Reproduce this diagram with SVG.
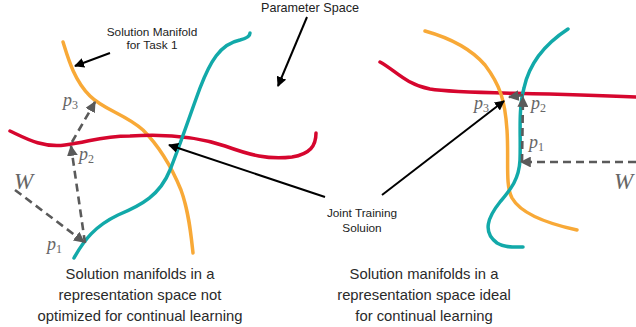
<svg xmlns="http://www.w3.org/2000/svg" width="636" height="327" viewBox="0 0 636 327">
<defs>
<style>
.curve{fill:none;stroke-width:3.5;stroke-linecap:round;stroke-linejoin:round}
.orange{stroke:#F8A937}
.teal{stroke:#12A9A9}
.red{stroke:#D6062E}
.dash{fill:none;stroke:#5a5a5a;stroke-width:2.6;stroke-dasharray:8 5}
.blk{fill:none;stroke:#000;stroke-width:2}
.lbl{font-family:"Liberation Sans",Arial,sans-serif;font-size:11.8px;fill:#222;text-anchor:middle}
.cap{font-family:"Liberation Sans",Arial,sans-serif;font-size:14.8px;fill:#2a2a2a;text-anchor:middle}
.math{font-family:"Liberation Serif","DejaVu Serif",serif;font-style:italic;fill:#666}
</style>
<marker id="ah" viewBox="0 0 10 10" refX="9" refY="5" markerWidth="5" markerHeight="5" orient="auto" markerUnits="strokeWidth">
<path d="M0,0 L10,5 L0,10 z" fill="#000"/>
</marker>
<marker id="gh" viewBox="0 0 10 10" refX="9" refY="5" markerWidth="4.2" markerHeight="4.2" orient="auto" markerUnits="strokeWidth">
<path d="M0,0 L10,5 L0,10 z" fill="#5a5a5a"/>
</marker>
</defs>

<g id="left-panel">
<path id="left-orange" class="curve orange" d="M63,42 C68,58 74,80 90,96 C104,110 125,114 143,130 C160,147 172,168 181,190 C189,212 191,235 193,253"/>
<path id="left-red" class="curve red" d="M10,131 C25,138 42,148 65,145 C90,142 100,136 130,136 C160,134 195,136 225,146 C250,155 268,160 292,157 C310,154 316,146 316,133"/>
<path id="left-teal" class="curve teal" d="M74,258 C84,240 95,226 118,215 C142,205 160,195 170,170 C180,145 190,115 200,88 C210,62 220,44 240,40 C248,38 250,36 250,33"/>
</g>

<g id="right-panel">
<path id="right-red" class="curve red" d="M380,62 C395,70 405,84 430,89 C460,94 520,92 636,97"/>
<path id="right-orange" class="curve orange" d="M425,31 C450,38 472,50 485,65 C500,85 505,100 507,130 C509,160 505,185 512,198 C520,212 540,222 577,230"/>
<path id="right-teal" class="curve teal" d="M568,29 C548,42 530,60 524,88 C518,110 521,135 520,160 C519,180 510,190 500,202 C488,217 482,232 497,243 C505,248 515,247 523,247"/>
</g>

<g id="connectors">
<line class="dash" x1="15" y1="190" x2="84" y2="242" marker-end="url(#gh)"/>
<line class="dash" x1="85" y1="243" x2="71" y2="146" marker-end="url(#gh)"/>
<line class="dash" x1="72" y1="142" x2="95" y2="102" marker-end="url(#gh)"/>
<line class="dash" x1="636" y1="162" x2="521" y2="162" marker-end="url(#gh)"/>
<line class="dash" x1="522" y1="162" x2="523" y2="97" marker-end="url(#gh)"/>
<line class="dash" x1="523" y1="95" x2="509" y2="97" marker-end="url(#gh)"/>
<line class="blk" x1="110" y1="53" x2="75" y2="66" marker-end="url(#ah)"/>
<line class="blk" x1="307" y1="17" x2="278" y2="86" marker-end="url(#ah)"/>
<line class="blk" x1="325" y1="197" x2="169" y2="145" marker-end="url(#ah)"/>
<line class="blk" x1="382" y1="195" x2="504" y2="101" marker-end="url(#ah)"/>
</g>

<g id="labels">
<text class="lbl" x="310" y="12" style="font-size:12.6px">Parameter Space</text>
<text class="lbl" x="152" y="36">Solution Manifold</text>
<text class="lbl" x="152" y="49">for Task 1</text>
<text class="lbl" x="362" y="217">Joint Training</text>
<text class="lbl" x="362" y="232">Soluion</text>
<text class="math" x="14" y="189" font-size="23">W</text>
<text class="math" x="63" y="106" font-size="18">p<tspan font-size="12" dy="3" font-style="normal">3</tspan></text>
<text class="math" x="79" y="160" font-size="18">p<tspan font-size="12" dy="3" font-style="normal">2</tspan></text>
<text class="math" x="47" y="250" font-size="18">p<tspan font-size="12" dy="3" font-style="normal">1</tspan></text>
<text class="math" x="474" y="109" font-size="18">p<tspan font-size="12" dy="3" font-style="normal">3</tspan></text>
<text class="math" x="531" y="109" font-size="18">p<tspan font-size="12" dy="3" font-style="normal">2</tspan></text>
<text class="math" x="529" y="148" font-size="18">p<tspan font-size="12" dy="3" font-style="normal">1</tspan></text>
<text class="math" x="614" y="189" font-size="23">W</text>
<text class="cap" x="140" y="279">Solution manifolds in a</text>
<text class="cap" x="140" y="300">representation space not</text>
<text class="cap" x="140" y="321">optimized for continual learning</text>
<text class="cap" x="424" y="279">Solution manifolds in a</text>
<text class="cap" x="424" y="300">representation space ideal</text>
<text class="cap" x="424" y="321">for continual learning</text>
</g>
</svg>
